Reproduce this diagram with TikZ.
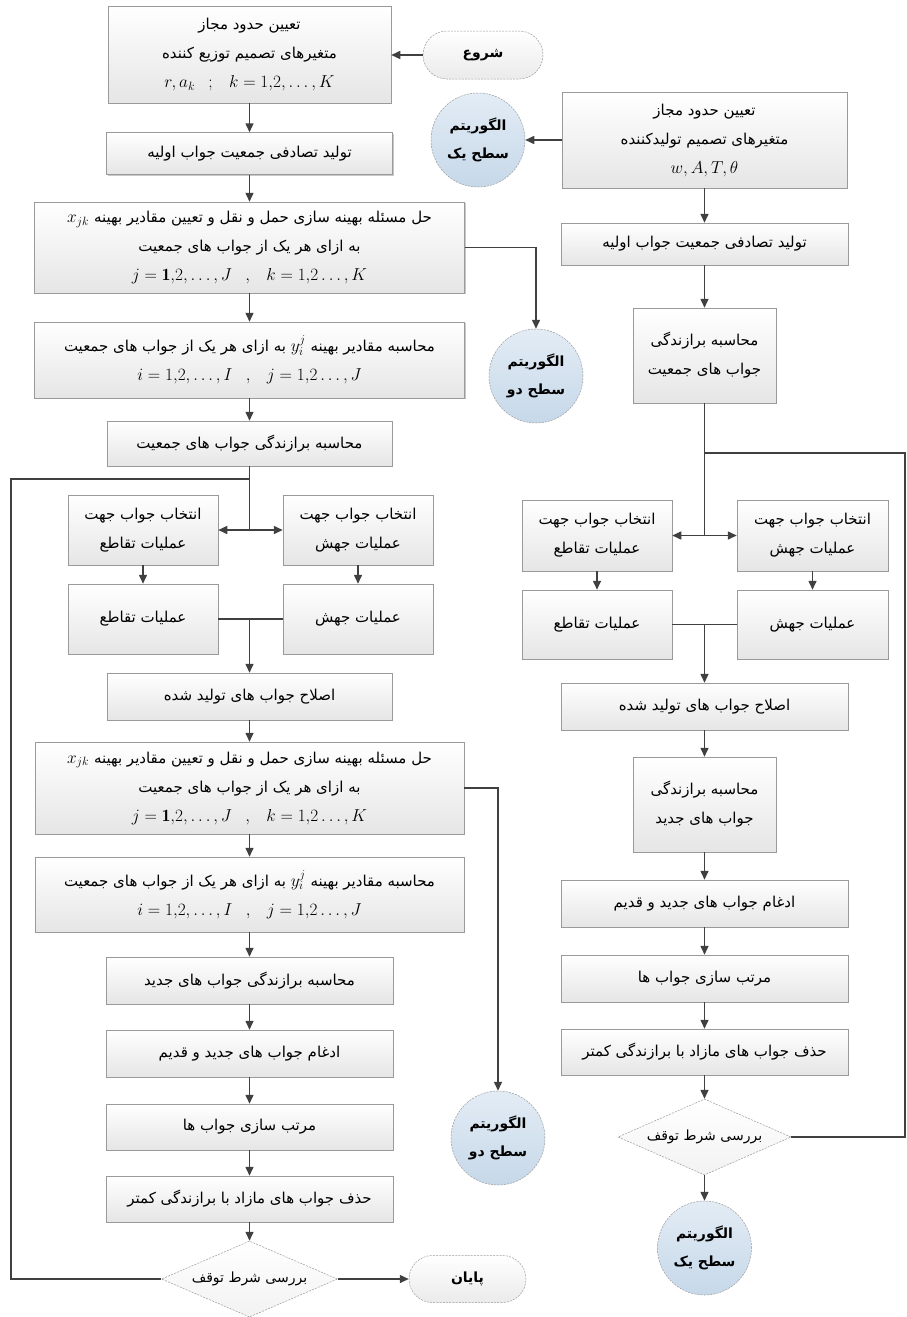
\documentclass[tikz,border=0pt]{standalone}
\usepackage{fontspec}
\newfontfamily\farsi[Script=Arabic]{DejaVu Sans}
\TeXXeTstate=1
\usetikzlibrary{arrows.meta,shapes.geometric,shapes.misc,shadows}
\newcommand\rl[1]{\beginR #1\endR}
\newcommand\msz{\fontsize{17.28}{29}\selectfont}
\newcommand\mth[1]{\hbox{\msz$#1$}}
\newcommand\mline[1]{{\msz$#1$}}
\definecolor{conncol}{HTML}{404040}
\definecolor{bordcol}{HTML}{9A9A9A}
\definecolor{circtop}{HTML}{E3ECF5}
\definecolor{circbot}{HTML}{C6D8E9}
\tikzset{
  box/.style={draw=bordcol, line width=0.5pt, top color=white, bottom color=gray!20,
    drop shadow={shadow xshift=1.4pt, shadow yshift=-1.4pt, opacity=0.5, fill=gray!85},
    align=center, inner sep=2pt, font=\farsi\fontsize{15}{29}\selectfont},
  term/.style={rounded rectangle, draw=bordcol, dash pattern=on 2pt off 1.2pt, line width=0.5pt,
    top color=white, bottom color=gray!16, inner sep=2pt,
    font=\farsi\bfseries\fontsize{14}{18}\selectfont},
  circ/.style={circle, draw=bordcol, dash pattern=on 2pt off 1.2pt, line width=0.5pt,
    top color=circtop, bottom color=circbot, minimum size=94, inner sep=0pt, align=center,
    font=\farsi\bfseries\fontsize{14}{28}\selectfont},
  dec/.style={diamond, draw=bordcol, dash pattern=on 2pt off 1.2pt, line width=0.5pt,
    top color=white, bottom color=gray!10, aspect=2.3, inner sep=0pt,
    minimum width=176, minimum height=76, font=\farsi\fontsize{14}{18}\selectfont},
  conn/.style={draw=conncol, line width=1.5pt},
  arr/.style={conn, -{Triangle[length=9pt,width=8pt]}},
}
\begin{document}
\begin{tikzpicture}[x=1pt,y=-1pt]
\useasboundingbox (0,0) rectangle (907,1317);
\fill[white] (0,0) rectangle (907,1317);
% ---------------- left column ----------------
\node[term, minimum width=124, minimum height=48] (start) at (483,55) {\rl{شروع}};
\node[box, minimum width=283, minimum height=97] (A1) at (249.5,54.5)
  {\rl{تعیین حدود مجاز}\\ \rl{متغیرهای تصمیم توزیع کننده}\\ \mline{r, a_k\enspace\;;\enspace\; k=1{,}2,\ldots,K}};
\node[box, minimum width=286, minimum height=42] (A2) at (249.5,153.5) {\rl{تولید تصادفی جمعیت جواب اولیه}};
\node[box, minimum width=430, minimum height=91] (A3) at (249.5,247.5)
  {\rl{حل مسئله بهینه سازی حمل و نقل و تعیین مقادیر بهینه \mth{x_{jk}}}\\ \rl{به ازای هر یک از جواب های جمعیت}\\ \mline{j=\mathbf{1}{,}2,\ldots,J\enspace\;,\enspace\; k=1{,}2\ldots,K}};
\node[box, minimum width=430, minimum height=76] (A4) at (249.5,360)
  {\rl{محاسبه مقادیر بهینه \mth{y_i^j} به ازای هر یک از جواب های جمعیت}\\ \mline{i=1{,}2,\ldots,I\enspace\;,\enspace\; j=1{,}2\ldots,J}};
\node[box, minimum width=285, minimum height=45] (A5) at (249.5,443.5) {\rl{محاسبه برازندگی جواب های جمعیت}};
\node[box, minimum width=150, minimum height=70] (A6) at (143,530) {\rl{انتخاب جواب جهت}\\ \rl{عملیات تقاطع}};
\node[box, minimum width=150, minimum height=70] (A7) at (358,530) {\rl{انتخاب جواب جهت}\\ \rl{عملیات جهش}};
\node[box, minimum width=150, minimum height=70] (A8) at (143,619) {\rl{عملیات تقاطع}};
\node[box, minimum width=150, minimum height=70] (A9) at (358,619) {\rl{عملیات جهش}};
\node[box, minimum width=285, minimum height=47] (A10) at (249.5,696.5) {\rl{اصلاح جواب های تولید شده}};
\node[box, minimum width=429, minimum height=92] (A11) at (249.5,788)
  {\rl{حل مسئله بهینه سازی حمل و نقل و تعیین مقادیر بهینه \mth{x_{jk}}}\\ \rl{به ازای هر یک از جواب های جمعیت}\\ \mline{j=\mathbf{1}{,}2,\ldots,J\enspace\;,\enspace\; k=1{,}2\ldots,K}};
\node[box, minimum width=429, minimum height=75] (A12) at (249.5,894.5)
  {\rl{محاسبه مقادیر بهینه \mth{y_i^j} به ازای هر یک از جواب های جمعیت}\\ \mline{i=1{,}2,\ldots,I\enspace\;,\enspace\; j=1{,}2\ldots,J}};
\node[box, minimum width=287, minimum height=47] (A13) at (249.5,980.5) {\rl{محاسبه برازندگی جواب های جدید}};
\node[box, minimum width=287, minimum height=47] (A14) at (249.5,1053.5) {\rl{ادغام جواب های جدید و قدیم}};
\node[box, minimum width=287, minimum height=46] (A15) at (249.5,1127) {\rl{مرتب سازی جواب ها}};
\node[box, minimum width=287, minimum height=46] (A16) at (249.5,1199) {\rl{حذف جواب های مازاد با برازندگی کمتر}};
\node[dec] (DL) at (249.5,1279) {\rl{بررسی شرط توقف}};
\node[term, minimum width=121, minimum height=47] (end) at (467.5,1279) {\rl{پایان}};
\node[circ] (C2) at (536,376) {\rl{الگوریتم}\\ \rl{سطح دو}};
\node[circ] (C3) at (498,1138) {\rl{الگوریتم}\\ \rl{سطح دو}};
% ---------------- right column ----------------
\node[circ] (C1) at (478,140) {\rl{الگوریتم}\\ \rl{سطح یک}};
\node[box, minimum width=285, minimum height=96] (B1) at (704.5,140)
  {\rl{تعیین حدود مجاز}\\ \rl{متغیرهای تصمیم تولیدکننده}\\ \mline{w, A, T, \theta}};
\node[box, minimum width=287, minimum height=42] (B2) at (704.5,244) {\rl{تولید تصادفی جمعیت جواب اولیه}};
\node[box, minimum width=143, minimum height=95] (B3) at (704.5,355.5) {\rl{محاسبه برازندگی}\\ \rl{جواب های جمعیت}};
\node[box, minimum width=150, minimum height=71] (B4) at (597,535.5) {\rl{انتخاب جواب جهت}\\ \rl{عملیات تقاطع}};
\node[box, minimum width=151, minimum height=71] (B5) at (812.5,535.5) {\rl{انتخاب جواب جهت}\\ \rl{عملیات جهش}};
\node[box, minimum width=150, minimum height=69] (B6) at (597,624.5) {\rl{عملیات تقاطع}};
\node[box, minimum width=151, minimum height=69] (B7) at (812.5,624.5) {\rl{عملیات جهش}};
\node[box, minimum width=287, minimum height=47] (B8) at (704.5,706.5) {\rl{اصلاح جواب های تولید شده}};
\node[box, minimum width=143, minimum height=95] (B9) at (704.5,804.5) {\rl{محاسبه برازندگی}\\ \rl{جواب های جدید}};
\node[box, minimum width=287, minimum height=47] (B10) at (704.5,903.5) {\rl{ادغام جواب های جدید و قدیم}};
\node[box, minimum width=287, minimum height=47] (B11) at (704.5,978.5) {\rl{مرتب سازی جواب ها}};
\node[box, minimum width=287, minimum height=46] (B12) at (704.5,1052) {\rl{حذف جواب های مازاد با برازندگی کمتر}};
\node[dec, minimum width=173] (DR) at (704.5,1137) {\rl{بررسی شرط توقف}};
\node[circ] (C4) at (704.5,1248) {\rl{الگوریتم}\\ \rl{سطح یک}};
% ---------------- coordinates ----------------
\coordinate (lb) at (249.5,530);
\coordinate (lm) at (249.5,619);
\coordinate (l1) at (249.5,479);
\coordinate (l2) at (11,479);
\coordinate (l3) at (11,1279);
\coordinate (rb) at (704.5,535.5);
\coordinate (rm) at (704.5,624.5);
\coordinate (r1) at (704.5,453);
\coordinate (r2) at (905,453);
\coordinate (r3) at (905,1137);
% ---------------- connectors left ----------------
\draw[arr] (start.west) -- (A1.east |- start.west);
\draw[arr] (A1) -- (A2);
\draw[arr] (A2) -- (A3);
\draw[arr] (A3) -- (A4);
\draw[arr] (A4) -- (A5);
\draw[arr] (A3.east) -| (C2.north);
\draw[conn] (A5.south) -- (lb);
\draw[arr] (lb) -- (A6.east);
\draw[arr] (lb) -- (A7.west);
\draw[arr] (A6) -- (A8);
\draw[arr] (A7) -- (A9);
\draw[conn] (A8.east) -- (A9.west);
\draw[arr] (lm) -- (A10.north);
\draw[arr] (A10) -- (A11);
\draw[arr] (A11.east) -| (C3.north);
\draw[arr] (A11) -- (A12);
\draw[arr] (A12) -- (A13);
\draw[arr] (A13) -- (A14);
\draw[arr] (A14) -- (A15);
\draw[arr] (A15) -- (A16);
\draw[arr] (A16) -- (DL);
\draw[arr] (DL.east) -- (end.west);
\draw[conn] (DL.west) -- (l3) -- (l2) -- (l1);
% ---------------- connectors right ----------------
\draw[arr] (B1.west) -- (C1.east);
\draw[arr] (B1) -- (B2);
\draw[arr] (B2) -- (B3);
\draw[conn] (B3.south) -- (rb);
\draw[arr] (rb) -- (B4.east);
\draw[arr] (rb) -- (B5.west);
\draw[arr] (B4) -- (B6);
\draw[arr] (B5) -- (B7);
\draw[conn] (B6.east) -- (B7.west);
\draw[arr] (rm) -- (B8.north);
\draw[arr] (B8) -- (B9);
\draw[arr] (B9) -- (B10);
\draw[arr] (B10) -- (B11);
\draw[arr] (B11) -- (B12);
\draw[arr] (B12) -- (DR);
\draw[arr] (DR) -- (C4);
\draw[conn] (DR.east) -- (r3) -- (r2) -- (r1);
\end{tikzpicture}
\end{document}
